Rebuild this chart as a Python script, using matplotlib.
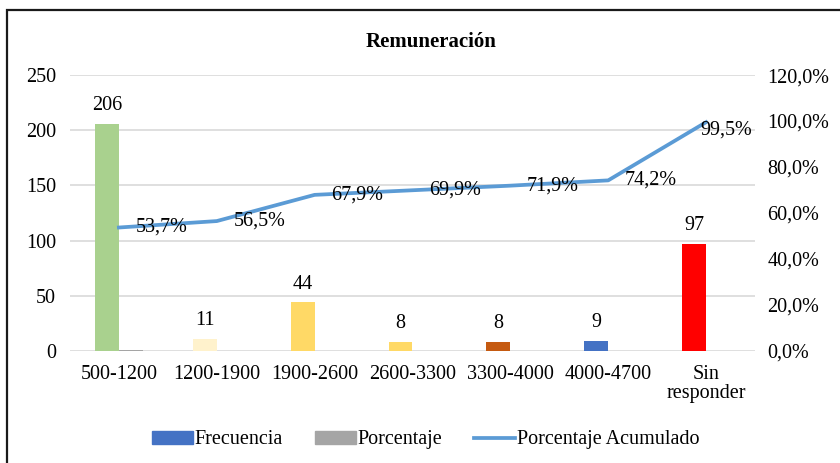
import matplotlib
matplotlib.use("Agg")
import matplotlib.pyplot as plt
import numpy as np
from matplotlib.patches import Rectangle, Patch
from matplotlib.lines import Line2D

plt.rcParams['font.family'] = ['Liberation Serif', 'DejaVu Serif']

categorias = ['500-1200', '1200-1900', '1900-2600', '2600-3300', '3300-4000', '4000-4700', 'Sin\nresponder']
frecuencia = [206, 11, 44, 8, 8, 9, 97]
porcentaje = [0.537, 0.029, 0.114, 0.021, 0.021, 0.023, 0.253]
acumulado = [53.7, 56.5, 67.9, 69.9, 71.9, 74.2, 99.5]
colores = ['#A9D18E', '#FFF2CC', '#FFD966', '#FFD966', '#C55A11', '#4472C4', '#FF0000']

fs = 14.5

fig = plt.figure(figsize=(8.4, 4.63), dpi=100)
ax = fig.add_axes([0.0833, 0.2419, 0.8155, 0.596])
ax2 = ax.twinx()

x = np.arange(len(categorias))
w = 0.245
ax.bar(x - w / 2, frecuencia, w, color=colores, zorder=3)
ax.bar(x + w / 2, porcentaje, w, color='#A5A5A5', zorder=3)
for xi, v in zip(x, frecuencia):
    ax.text(xi - w / 2, v + 8, str(v), ha='center', va='bottom', fontsize=fs)

ax.set_ylim(0, 250)
ax.set_yticks(range(0, 251, 50))
ax.set_xlim(-0.5, len(categorias) - 0.5)
ax.set_xticks(x)
ax.set_xticklabels(categorias, fontsize=fs, linespacing=1.0)
ax.yaxis.grid(True, color='#D9D9D9', linewidth=1.2, zorder=0)
ax.tick_params(axis='both', length=0, labelsize=fs)
ax.tick_params(axis='y', pad=10)
ax.tick_params(axis='x', pad=10)
for s in ax.spines.values():
    s.set_visible(False)

ax2.plot(x, acumulado, color='#5B9BD5', linewidth=2.7, zorder=4)
for i, (xi, v) in enumerate(zip(x, acumulado)):
    # the last label is pulled back inside the plot area, as in the original
    off = (-4, -6) if i == len(x) - 1 else (12, 0)
    ax2.annotate(f'{v:.1f}%'.replace('.', ','), (xi, v), xytext=off,
                 textcoords='offset points', ha='left', va='center', fontsize=fs, zorder=5)
ax2.set_ylim(0, 120)
ax2.set_yticks(range(0, 121, 20))
ax2.set_yticklabels([f'{t},0%' for t in range(0, 121, 20)])
ax2.tick_params(axis='y', length=0, labelsize=fs, pad=9)
for s in ax2.spines.values():
    s.set_visible(False)

fig.text(0.513, 0.91, 'Remuneración', ha='center', va='center', fontsize=15, fontweight='bold')

handles = [Patch(color='#4472C4'), Patch(color='#A5A5A5'),
           Line2D([0], [0], color='#5B9BD5', linewidth=2.7)]
fig.legend(handles, ['Frecuencia', 'Porcentaje', 'Porcentaje Acumulado'], loc='center',
           bbox_to_anchor=(0.507, 0.05), ncol=3, frameon=False, fontsize=fs,
           handlelength=2.0, handleheight=0.6, handletextpad=0.1, columnspacing=1.6)

fig.patches.append(Rectangle((0.0083, -0.02), 1.05, 0.998, transform=fig.transFigure,
                             fill=False, edgecolor='#1a1a1a', linewidth=1.6))

fig.savefig('out.png', dpi=100)
